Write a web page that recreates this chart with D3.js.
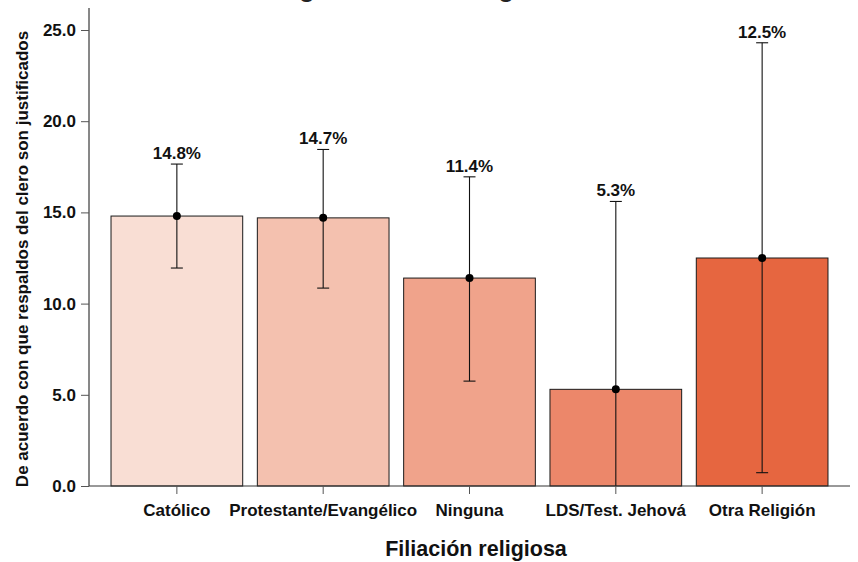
<!DOCTYPE html>
<html>
<head>
<meta charset="utf-8">
<script src="https://cdn.jsdelivr.net/npm/d3@7"></script>
<style>
  html, body { margin: 0; padding: 0; background: #fff; }
  svg { display: block; font-family: "Liberation Sans", Arial, sans-serif; }
</style>
</head>
<body>
<svg id="chart" width="858" height="562"></svg>
<script>
// Religious affiliation groups and their share (%) agreeing that clergy endorsements are justified
const categories = ["Católico", "Protestante/Evangélico", "Ninguna", "LDS/Test. Jehová", "Otra Religión"];
const values = [14.8, 14.7, 11.4, 5.3, 12.5];
const lower = [11.95, 10.85, 5.75, 0.0, 0.73];
const upper = [17.65, 18.45, 16.95, 15.6, 24.3];
const barColors = ["#F9DED4", "#F4C1AF", "#F0A38B", "#EC876A", "#E66640"];
const yTicks = [0, 5, 10, 15, 20, 25];

const svg = d3.select("#chart");

const x = d3.scaleBand()
  .domain(categories)
  .range([103.7, 835.3])
  .paddingInner(0.1)
  .paddingOuter(0.05);

const y = d3.scaleLinear()
  .domain([0, 25])
  .range([486, 30]);

// Title: only its lower edge falls inside the drawing area
const title = svg.append("text")
  .attr("x", 0)
  .attr("y", -3.5)
  .attr("font-size", 26)
  .attr("font-weight", "bold")
  .attr("fill", "#222")
  .text("Acuerdo según filiación religiosa");
// line the first "g" up at x = 305
const gIdx = title.text().indexOf("g");
const gPos = title.node().getStartPositionOfChar(gIdx).x;
title.attr("x", 299 - gPos);

// Bars
svg.append("g").selectAll("rect")
  .data(categories)
  .join("rect")
  .attr("x", d => x(d))
  .attr("y", (d, i) => y(values[i]))
  .attr("width", x.bandwidth())
  .attr("height", (d, i) => y(0) - y(values[i]))
  .attr("fill", (d, i) => barColors[i])
  .attr("stroke", "#1a1a1a")
  .attr("stroke-width", 1);

// Error bars
const eb = svg.append("g").attr("stroke", "#111").attr("stroke-width", 1.1);
categories.forEach((c, i) => {
  const cx = x(c) + x.bandwidth() / 2;
  eb.append("line").attr("x1", cx).attr("x2", cx).attr("y1", y(lower[i])).attr("y2", y(upper[i]));
  eb.append("line").attr("x1", cx - 6).attr("x2", cx + 6).attr("y1", y(upper[i])).attr("y2", y(upper[i]));
  if (lower[i] > 0) {
    eb.append("line").attr("x1", cx - 6).attr("x2", cx + 6).attr("y1", y(lower[i])).attr("y2", y(lower[i]));
  }
});

// Point estimates
svg.append("g").selectAll("circle")
  .data(categories)
  .join("circle")
  .attr("cx", d => x(d) + x.bandwidth() / 2)
  .attr("cy", (d, i) => y(values[i]))
  .attr("r", 4)
  .attr("fill", "#000");

// Value labels above the upper whisker
svg.append("g").selectAll("text")
  .data(categories)
  .join("text")
  .attr("x", d => x(d) + x.bandwidth() / 2)
  .attr("y", (d, i) => y(upper[i]) - 5)
  .attr("text-anchor", "middle")
  .attr("font-size", 17)
  .attr("font-weight", "bold")
  .attr("fill", "#111")
  .text((d, i) => values[i].toFixed(1) + "%");

// Y axis
const yAxis = svg.append("g")
  .attr("transform", "translate(89,0)")
  .call(d3.axisLeft(y).tickValues(yTicks).tickFormat(d3.format(".1f")).tickSize(8).tickPadding(5));
yAxis.select(".domain").attr("d", "M0,8V486").attr("stroke", "#111");
yAxis.selectAll(".tick line").attr("stroke", "#555");
yAxis.selectAll(".tick text")
  .attr("font-size", 17).attr("font-weight", "bold").attr("fill", "#111")
  .attr("font-family", "Liberation Sans, Arial, sans-serif");

// X axis
const xAxis = svg.append("g")
  .attr("transform", "translate(0,486)")
  .call(d3.axisBottom(x).tickSize(8).tickPadding(10));
xAxis.select(".domain").attr("d", "M89,0H850").attr("stroke", "#333");
xAxis.selectAll(".tick line").attr("stroke", "#555");
xAxis.selectAll(".tick text")
  .attr("font-size", 17).attr("font-weight", "bold").attr("fill", "#111")
  .attr("font-family", "Liberation Sans, Arial, sans-serif");

// Axis titles
svg.append("text")
  .attr("transform", "translate(28,259) rotate(-90)")
  .attr("text-anchor", "middle")
  .attr("font-size", 17)
  .attr("font-weight", "bold")
  .attr("fill", "#111")
  .text("De acuerdo con que respaldos del clero son justificados");

svg.append("text")
  .attr("x", 476)
  .attr("y", 556)
  .attr("text-anchor", "middle")
  .attr("font-size", 21.5)
  .attr("font-weight", "bold")
  .attr("fill", "#111")
  .text("Filiación religiosa");
</script>
</body>
</html>
